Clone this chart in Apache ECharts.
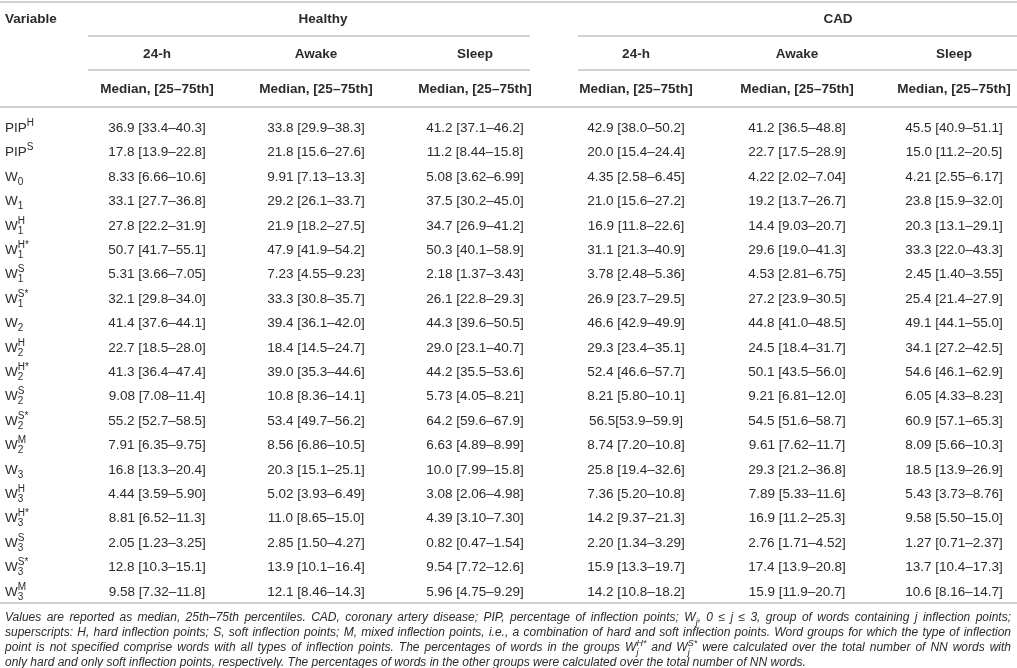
<!DOCTYPE html>
<html>
<head>
<meta charset="utf-8">
<script src="https://cdn.jsdelivr.net/npm/echarts@6/dist/echarts.min.js"></script>
<style>
html,body{margin:0;padding:0;background:#fff;}
#main{width:1017px;height:668px;}
</style>
</head>
<body>
<div id="main"></div>
<script>
// row labels: base, subscript, superscript
var varBase = ['PIP','PIP','W','W','W','W','W','W','W','W','W','W','W','W','W','W','W','W','W','W'];
var varSub  = ['','','0','1','1','1','1','1','2','2','2','2','2','2','3','3','3','3','3','3'];
var varSup  = ['H','S','','','H','H*','S','S*','','H','H*','S','S*','M','','H','H*','S','S*','M'];

var groups = ['Healthy', 'CAD'];
var periods = ['24-h', 'Awake', 'Sleep'];
var statLabel = 'Median, [25–75th]';

var healthy24 = ['36.9 [33.4–40.3]','17.8 [13.9–22.8]','8.33 [6.66–10.6]','33.1 [27.7–36.8]','27.8 [22.2–31.9]','50.7 [41.7–55.1]','5.31 [3.66–7.05]','32.1 [29.8–34.0]','41.4 [37.6–44.1]','22.7 [18.5–28.0]','41.3 [36.4–47.4]','9.08 [7.08–11.4]','55.2 [52.7–58.5]','7.91 [6.35–9.75]','16.8 [13.3–20.4]','4.44 [3.59–5.90]','8.81 [6.52–11.3]','2.05 [1.23–3.25]','12.8 [10.3–15.1]','9.58 [7.32–11.8]'];
var healthyAwake = ['33.8 [29.9–38.3]','21.8 [15.6–27.6]','9.91 [7.13–13.3]','29.2 [26.1–33.7]','21.9 [18.2–27.5]','47.9 [41.9–54.2]','7.23 [4.55–9.23]','33.3 [30.8–35.7]','39.4 [36.1–42.0]','18.4 [14.5–24.7]','39.0 [35.3–44.6]','10.8 [8.36–14.1]','53.4 [49.7–56.2]','8.56 [6.86–10.5]','20.3 [15.1–25.1]','5.02 [3.93–6.49]','11.0 [8.65–15.0]','2.85 [1.50–4.27]','13.9 [10.1–16.4]','12.1 [8.46–14.3]'];
var healthySleep = ['41.2 [37.1–46.2]','11.2 [8.44–15.8]','5.08 [3.62–6.99]','37.5 [30.2–45.0]','34.7 [26.9–41.2]','50.3 [40.1–58.9]','2.18 [1.37–3.43]','26.1 [22.8–29.3]','44.3 [39.6–50.5]','29.0 [23.1–40.7]','44.2 [35.5–53.6]','5.73 [4.05–8.21]','64.2 [59.6–67.9]','6.63 [4.89–8.99]','10.0 [7.99–15.8]','3.08 [2.06–4.98]','4.39 [3.10–7.30]','0.82 [0.47–1.54]','9.54 [7.72–12.6]','5.96 [4.75–9.29]'];
var cad24 = ['42.9 [38.0–50.2]','20.0 [15.4–24.4]','4.35 [2.58–6.45]','21.0 [15.6–27.2]','16.9 [11.8–22.6]','31.1 [21.3–40.9]','3.78 [2.48–5.36]','26.9 [23.7–29.5]','46.6 [42.9–49.9]','29.3 [23.4–35.1]','52.4 [46.6–57.7]','8.21 [5.80–10.1]','56.5[53.9–59.9]','8.74 [7.20–10.8]','25.8 [19.4–32.6]','7.36 [5.20–10.8]','14.2 [9.37–21.3]','2.20 [1.34–3.29]','15.9 [13.3–19.7]','14.2 [10.8–18.2]'];
var cadAwake = ['41.2 [36.5–48.8]','22.7 [17.5–28.9]','4.22 [2.02–7.04]','19.2 [13.7–26.7]','14.4 [9.03–20.7]','29.6 [19.0–41.3]','4.53 [2.81–6.75]','27.2 [23.9–30.5]','44.8 [41.0–48.5]','24.5 [18.4–31.7]','50.1 [43.5–56.0]','9.21 [6.81–12.0]','54.5 [51.6–58.7]','9.61 [7.62–11.7]','29.3 [21.2–36.8]','7.89 [5.33–11.6]','16.9 [11.2–25.3]','2.76 [1.71–4.52]','17.4 [13.9–20.8]','15.9 [11.9–20.7]'];
var cadSleep = ['45.5 [40.9–51.1]','15.0 [11.2–20.5]','4.21 [2.55–6.17]','23.8 [15.9–32.0]','20.3 [13.1–29.1]','33.3 [22.0–43.3]','2.45 [1.40–3.55]','25.4 [21.4–27.9]','49.1 [44.1–55.0]','34.1 [27.2–42.5]','54.6 [46.1–62.9]','6.05 [4.33–8.23]','60.9 [57.1–65.3]','8.09 [5.66–10.3]','18.5 [13.9–26.9]','5.43 [3.73–8.76]','9.58 [5.50–15.0]','1.27 [0.71–2.37]','13.7 [10.4–17.3]','10.6 [8.16–14.7]'];

var columns = [healthy24, healthyAwake, healthySleep, cad24, cadAwake, cadSleep];

// footnote, one array per printed line; {b,sub,sup} is a symbol
var note1 = ['Values are reported as median, 25th–75th percentiles. CAD, coronary artery disease; PIP, percentage of inflection points; ', {b:'W', sub:'j', sup:''}, ', 0 ≤ j ≤ 3, group of words containing j inflection points;'];
var note2 = ['superscripts: H, hard inflection points; S, soft inflection points; M, mixed inflection points, i.e., a combination of hard and soft inflection points. Word groups for which the type of inflection'];
var note3 = ['point is not specified comprise words with all types of inflection points. The percentages of words in the groups ', {b:'W', sub:'j', sup:'H*'}, ' and ', {b:'W', sub:'j', sup:'S*'}, ' were calculated over the total number of NN words with'];
var note4 = ['only hard and only soft inflection points, respectively. The percentages of words in the other groups were calculated over the total number of NN words.'];

// layout (pixels)
var FONT = '"Liberation Sans", Arial, Helvetica, sans-serif';
var TXT = '#2b2b2b';
var RULE = '#c2c2c2';
var FS = 13.5;
var NOTE_FS = 12;
var colX = [157, 316, 475, 636, 797, 954];
var groupX = [323, 838];
var groupSpan = [[88, 530], [578, 1017]];

var ctx = document.createElement('canvas').getContext('2d');
function textWidth(s, size, weight, italic) {
  ctx.font = (italic ? 'italic ' : '') + (weight || 'normal') + ' ' + size + 'px ' + FONT;
  return ctx.measureText(s).width;
}

function txt(x, y, s, size, opt) {
  opt = opt || {};
  return {
    type: 'text', x: x, y: y, silent: true,
    style: {
      text: s, fontSize: size, fontFamily: FONT,
      fontWeight: opt.weight || 'normal', fontStyle: opt.italic ? 'italic' : 'normal',
      fill: TXT, align: opt.align || 'left', verticalAlign: 'middle'
    }
  };
}

// base letter with stacked sub/superscript, returns [elements, width]
function symbol(x, y, base, sub, sup, size, italic) {
  var small = Math.round(size * 0.74);
  var w = textWidth(base, size, 'normal', italic);
  var els = [txt(x, y, base, size, {italic: italic})];
  var extra = 0;
  if (sup) {
    els.push(txt(x + w, y - size * 0.36, sup, small, {italic: italic}));
    extra = Math.max(extra, textWidth(sup, small, 'normal', italic));
  }
  if (sub) {
    els.push(txt(x + w, y + size * 0.38, sub, small, {italic: italic}));
    extra = Math.max(extra, textWidth(sub, small, 'normal', italic));
  }
  return [els, w + extra];
}

// justified footnote line
function noteLine(parts, y, x0, x1, size, justify) {
  var tokens = [];
  parts.forEach(function (p) {
    if (typeof p === 'string') {
      p.split(/( )/).forEach(function (t) {
        if (t === ' ') tokens.push({space: true});
        else if (t) tokens.push({t: t});
      });
    } else {
      tokens.push({sym: p});
    }
  });
  var fixed = 0, gaps = 0;
  tokens.forEach(function (k) {
    if (k.space) { gaps++; return; }
    if (k.sym) k.w = symbol(0, 0, k.sym.b, k.sym.sub, k.sym.sup, size, true)[1];
    else k.w = textWidth(k.t, size, 'normal', true);
    fixed += k.w;
  });
  var sp = justify ? (x1 - x0 - fixed) / gaps : textWidth(' ', size, 'normal', true);
  var x = x0, els = [];
  tokens.forEach(function (k) {
    if (k.space) { x += sp; return; }
    if (k.sym) els = els.concat(symbol(x, y, k.sym.b, k.sym.sub, k.sym.sup, size, true)[0]);
    else els.push(txt(x, y, k.t, size, {italic: true}));
    x += k.w;
  });
  return els;
}

function rule(x1, x2, y) {
  return {type: 'line', silent: true, shape: {x1: x1, y1: y, x2: x2, y2: y}, style: {stroke: RULE, lineWidth: 1.6}};
}

var graphics = [];
graphics.push(rule(0, 1017, 2));
graphics.push(txt(5, 19, 'Variable', FS, {weight: 'bold'}));
for (var g = 0; g < groups.length; g++) {
  graphics.push(txt(groupX[g], 19, groups[g], FS, {weight: 'bold', align: 'center'}));
  graphics.push(rule(groupSpan[g][0], groupSpan[g][1], 36));
  graphics.push(rule(groupSpan[g][0], groupSpan[g][1], 70));
  for (var p = 0; p < periods.length; p++) {
    var cx = colX[g * 3 + p];
    graphics.push(txt(cx, 54, periods[p], FS, {weight: 'bold', align: 'center'}));
    graphics.push(txt(cx, 89, statLabel, FS, {weight: 'bold', align: 'center'}));
  }
}
graphics.push(rule(0, 1017, 107));
graphics.push(rule(0, 1017, 603));
graphics = graphics
  .concat(noteLine(note1, 618, 5, 1011, NOTE_FS, true))
  .concat(noteLine(note2, 633, 5, 1011, NOTE_FS, true))
  .concat(noteLine(note3, 648, 5, 1011, NOTE_FS, true))
  .concat(noteLine(note4, 663, 5, 1011, NOTE_FS, false));

var rowKeys = varBase.map(function (b, i) { return b + varSub[i] + varSup[i]; });

var chart = echarts.init(document.getElementById('main'), null, {renderer: 'canvas'});
chart.setOption({
  animation: false,
  grid: {left: 0, right: 0, top: 116, height: 488},
  xAxis: {type: 'value', min: 0, max: 1017, show: false},
  yAxis: {type: 'category', data: rowKeys, inverse: true, show: false},
  graphic: graphics,
  series: [{
    type: 'custom',
    silent: true,
    data: rowKeys.map(function (k, i) { return [i]; }),
    encode: {y: 0},
    renderItem: function (params, api) {
      var row = api.value(0);
      var y = api.coord([0, row])[1];
      var children = symbol(5, y, varBase[row], varSub[row], varSup[row], FS, false)[0];
      for (var c = 0; c < columns.length; c++) {
        var x = api.coord([colX[c], row])[0];
        children.push(txt(x, y, columns[c][row], FS, {align: 'center'}));
      }
      return {type: 'group', children: children};
    }
  }]
});
</script>
</body>
</html>
